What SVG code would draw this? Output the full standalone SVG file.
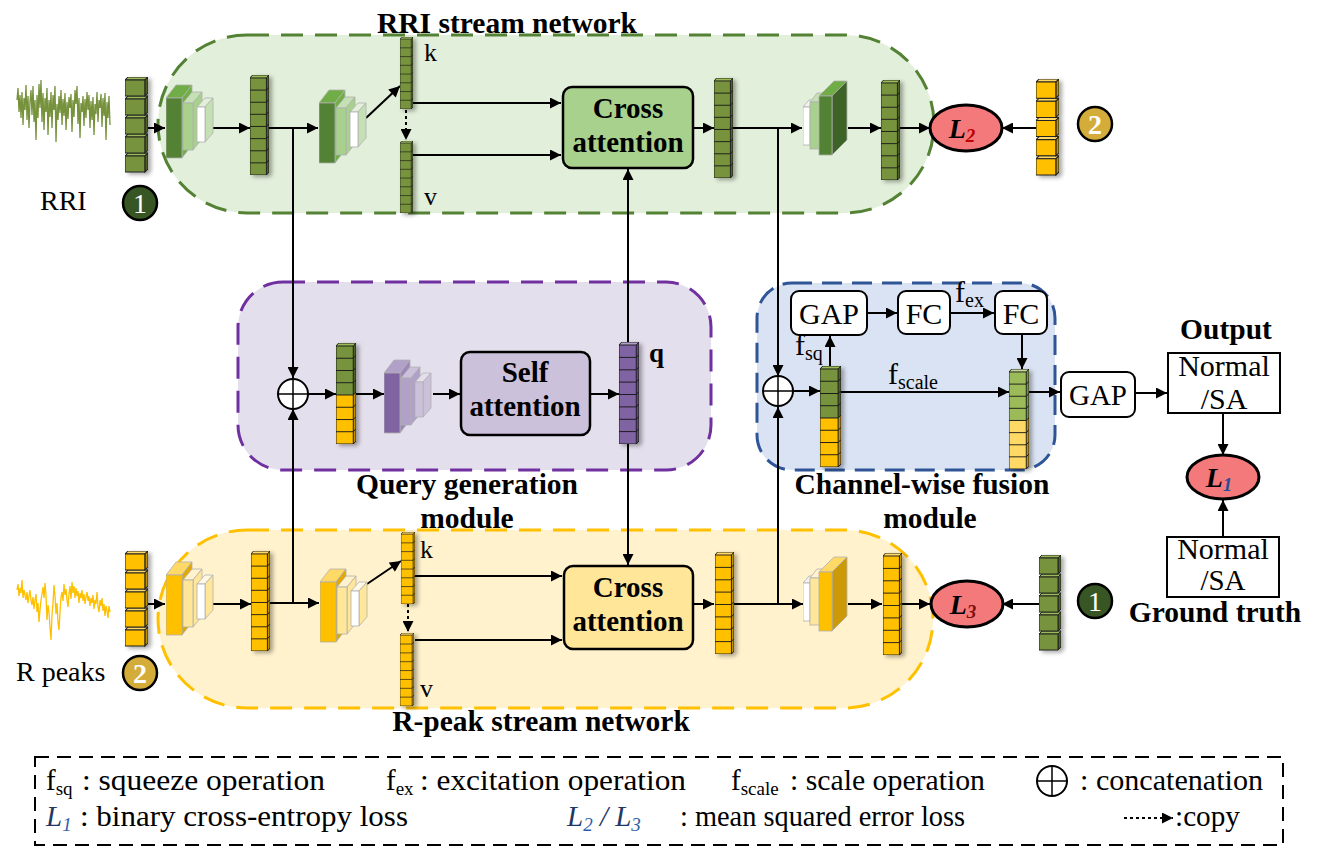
<svg xmlns="http://www.w3.org/2000/svg" width="1320" height="849" viewBox="0 0 1320 849">
<style>
.t{font-family:"Liberation Serif","Times New Roman",serif;fill:#000}
.b{font-weight:bold}
.h{font-family:"Liberation Serif","Times New Roman",serif;font-weight:bold;font-size:29.5px;text-anchor:middle}
.lg{font-family:"Liberation Serif","Times New Roman",serif;font-size:29px}
.c{stroke:#000;stroke-width:2;fill:none}
.ar{marker-end:url(#ah)}
.dot{stroke-dasharray:3 3}
.grid{fill:none;stroke:#1a1a1a;stroke-width:1}
.sl{stroke:#b0b0b0;stroke-width:0.8}
.box{stroke:#000;stroke-width:2.5}
.wbox{fill:#fff;stroke:#000;stroke-width:2}
</style>
<defs>
<marker id="ah" viewBox="0 0 10 10" refX="10" refY="5" markerWidth="12" markerHeight="11" markerUnits="userSpaceOnUse" orient="auto"><path d="M0,0L10,5L0,10Z" fill="#000"/></marker>
<filter id="sh" x="-30%" y="-10%" width="180%" height="130%"><feDropShadow dx="3" dy="2" stdDeviation="2" flood-color="#000" flood-opacity="0.35"/></filter>
<path id="g8" d="M0,15.4H19L22,12.4M0,27.8H19L22,24.8M0,40.1H19L22,37.1M0,52.5H19L22,49.5M0,64.9H19L22,61.9M0,77.3H19L22,74.3M0,89.6H19L22,86.6M0,3H19V102H0ZM0,3L3,0H22V99L19,102M19,3L22,0"/>
<symbol id="sG" viewBox="0 0 22 102" preserveAspectRatio="none"><path d="M0,3L3,0H22L19,3Z" fill="#9bbb59"/><path d="M19,3L22,0V99L19,102Z" fill="#4f6228"/><rect x="0" y="3" width="19" height="99" fill="#77933c"/><use href="#g8" class="grid"/></symbol>
<symbol id="sY" viewBox="0 0 22 102" preserveAspectRatio="none"><path d="M0,3L3,0H22L19,3Z" fill="#ffd966"/><path d="M19,3L22,0V99L19,102Z" fill="#bf9000"/><rect x="0" y="3" width="19" height="99" fill="#ffc000"/><use href="#g8" class="grid"/></symbol>
<symbol id="sP" viewBox="0 0 22 102" preserveAspectRatio="none"><path d="M0,3L3,0H22L19,3Z" fill="#b1a0c7"/><path d="M19,3L22,0V99L19,102Z" fill="#5f497a"/><rect x="0" y="3" width="19" height="99" fill="#8064a2"/><use href="#g8" class="grid"/></symbol>
<symbol id="sM" viewBox="0 0 22 102" preserveAspectRatio="none"><path d="M0,3L3,0H22L19,3Z" fill="#9bbb59"/><path d="M19,3L22,0V49.5L19,52.5Z" fill="#4f6228"/><path d="M19,52.5L22,49.5V99L19,102Z" fill="#bf9000"/><rect x="0" y="3" width="19" height="49.5" fill="#77933c"/><rect x="0" y="52.5" width="19" height="49.5" fill="#ffc000"/><use href="#g8" class="grid"/></symbol>
<symbol id="sL" viewBox="0 0 22 102" preserveAspectRatio="none"><path d="M0,3L3,0H22L19,3Z" fill="#c4d79b"/><path d="M19,3L22,0V49.5L19,52.5Z" fill="#77933c"/><path d="M19,52.5L22,49.5V99L19,102Z" fill="#bf9000"/><rect x="0" y="3" width="19" height="49.5" fill="#9bbb59"/><rect x="0" y="52.5" width="19" height="49.5" fill="#ffd966"/><use href="#g8" class="grid"/></symbol>
<path id="c5t" d="M0,3L3,0H22L19,3ZM0,22L3,19H22L19,22ZM0,41L3,38H22L19,41ZM0,60L3,57H22L19,60ZM0,79L3,76H22L19,79Z"/>
<path id="c5s" d="M19,3L22,0V16L19,19ZM19,22L22,19V35L19,38ZM19,41L22,38V54L19,57ZM19,60L22,57V73L19,76ZM19,79L22,76V92L19,95Z"/>
<path id="c5f" d="M0,3h19v16h-19ZM0,22h19v16h-19ZM0,41h19v16h-19ZM0,60h19v16h-19ZM0,79h19v16h-19Z"/>
<symbol id="cG" viewBox="0 0 22 96" preserveAspectRatio="none"><use href="#c5t" fill="#9bbb59" stroke="#222"/><use href="#c5s" fill="#4f6228" stroke="#222"/><use href="#c5f" fill="#77933c" stroke="#222"/></symbol>
<symbol id="cY" viewBox="0 0 22 96" preserveAspectRatio="none"><use href="#c5t" fill="#ffd966" stroke="#222"/><use href="#c5s" fill="#bf9000" stroke="#222"/><use href="#c5f" fill="#ffc000" stroke="#222"/></symbol>
<symbol id="encG" viewBox="0 0 48 76">
<path class="sl" fill="#70ad47" d="M0,14L10,1H26L16,14Z"/><path class="sl" fill="#70ad47" d="M16,14L26,1V61L16,74Z"/><rect class="sl" x="0" y="14" width="16" height="60" fill="#548235"/>
<path class="sl" fill="#c5e0b4" d="M17,19L26,8H36L27,19Z"/><path class="sl" fill="#a9d18e" d="M27,19L36,8V55L27,66Z"/><rect class="sl" x="17" y="19" width="10" height="47" fill="#a9d18e"/>
<path class="sl" fill="#e2f0d9" d="M31,23L39,14H47L39,23Z"/><path class="sl" fill="#c5e0b4" d="M39,23L47,14V49L39,58Z"/><rect class="sl" x="31" y="23" width="8" height="35" fill="#fff"/>
</symbol>
<symbol id="encY" viewBox="0 0 48 76">
<path class="sl" fill="#ffd966" d="M0,14L10,1H26L16,14Z"/><path class="sl" fill="#e0a800" d="M16,14L26,1V61L16,74Z"/><rect class="sl" x="0" y="14" width="16" height="60" fill="#ffc000"/>
<path class="sl" fill="#fff2cc" d="M17,19L26,8H36L27,19Z"/><path class="sl" fill="#ffe699" d="M27,19L36,8V55L27,66Z"/><rect class="sl" x="17" y="19" width="10" height="47" fill="#ffe699"/>
<path class="sl" fill="#fff8e5" d="M31,23L39,14H47L39,23Z"/><path class="sl" fill="#ffe699" d="M39,23L47,14V49L39,58Z"/><rect class="sl" x="31" y="23" width="8" height="35" fill="#fff"/>
</symbol>
<symbol id="encP" viewBox="0 0 48 76">
<path class="sl" fill="#b1a0c7" d="M0,14L10,1H26L16,14Z"/><path class="sl" fill="#9d87b9" d="M16,14L26,1V61L16,74Z"/><rect class="sl" x="0" y="14" width="16" height="60" fill="#8064a2"/>
<path class="sl" fill="#ccc1da" d="M17,19L26,8H36L27,19Z"/><path class="sl" fill="#b1a0c7" d="M27,19L36,8V55L27,66Z"/><rect class="sl" x="17" y="19" width="10" height="47" fill="#b1a0c7"/>
<path class="sl" fill="#e4dfec" d="M31,23L39,14H47L39,23Z"/><path class="sl" fill="#ccc1da" d="M39,23L47,14V49L39,58Z"/><rect class="sl" x="31" y="23" width="8" height="35" fill="#ccc1da"/>
</symbol>
<symbol id="decG" viewBox="0 0 46 76">
<path class="sl" fill="#f2f2f2" d="M0,27L6,20H13L7,27Z"/><path class="sl" fill="#e2f0d9" d="M7,27L13,20V58L7,65Z"/><rect class="sl" x="0" y="27" width="7" height="38" fill="#fff"/>
<path class="sl" fill="#c5e0b4" d="M7,22L14,13H24L17,22Z"/><path class="sl" fill="#8fbc6f" d="M17,22L24,13V60L17,69Z"/><rect class="sl" x="7" y="22" width="10" height="47" fill="#a9d18e"/>
<path class="sl" fill="#70ad47" d="M16,16L31,1H44L29,16Z"/><path class="sl" fill="#3d6326" d="M29,16L44,1V60L29,75Z"/><rect class="sl" x="16" y="16" width="13" height="59" fill="#548235"/>
</symbol>
<symbol id="decY" viewBox="0 0 46 76">
<path class="sl" fill="#f2f2f2" d="M0,27L6,20H13L7,27Z"/><path class="sl" fill="#fff2cc" d="M7,27L13,20V58L7,65Z"/><rect class="sl" x="0" y="27" width="7" height="38" fill="#fff"/>
<path class="sl" fill="#fff2cc" d="M7,22L14,13H24L17,22Z"/><path class="sl" fill="#ffd966" d="M17,22L24,13V60L17,69Z"/><rect class="sl" x="7" y="22" width="10" height="47" fill="#ffe699"/>
<path class="sl" fill="#ffd966" d="M16,16L31,1H44L29,16Z"/><path class="sl" fill="#cc9a06" d="M29,16L44,1V60L29,75Z"/><rect class="sl" x="16" y="16" width="13" height="59" fill="#ffc000"/>
</symbol>
<g id="oplus"><circle r="15" fill="#fff" stroke="#000" stroke-width="2"/><path d="M-15,0H15M0,-15V15" stroke="#000" stroke-width="1.5"/></g>
</defs>
<rect width="1320" height="849" fill="#fff"/>

<g id="rri-stream"><rect x="158" y="35" width="776" height="178" rx="89" fill="#e2efda" stroke="#548235" stroke-width="3" stroke-dasharray="22 12"/></g>
<g id="rpeak-stream"><rect x="158" y="530" width="775" height="178" rx="89" fill="#fff2cc" stroke="#ffc000" stroke-width="3" stroke-dasharray="22 12"/></g>
<g id="query-module"><rect x="238" y="282" width="473" height="188" rx="45" fill="#e4dfec" stroke="#7030a0" stroke-width="3" stroke-dasharray="22 12"/></g>
<g id="fusion-module"><rect x="757" y="283" width="298" height="187" rx="35" fill="#dae3f3" stroke="#2f5597" stroke-width="3" stroke-dasharray="20 10"/></g>

<text class="h" x="507" y="33">RRI stream network</text>
<text class="h" x="467" y="494">Query generation</text>
<text class="h" x="467" y="528">module</text>
<text class="h" x="922" y="494">Channel-wise fusion</text>
<text class="h" x="930" y="528">module</text>
<text class="h" x="541" y="731">R-peak stream network</text>

<g id="connectors">
<path class="c ar" d="M148,128H165"/>
<path class="c ar" d="M213,128H250"/>
<path class="c ar" d="M269,128H318"/>
<path class="c ar" d="M293,128V378"/>
<path class="c ar" d="M366,118L400,86"/>
<path class="c ar dot" d="M406,110V140"/>
<path class="c ar" d="M413,103H561"/>
<path class="c ar" d="M413,155H561"/>
<path class="c ar" d="M693,128H714"/>
<path class="c ar" d="M733,128H802"/>
<path class="c ar" d="M778,128V376"/>
<path class="c ar" d="M848,128H881"/>
<path class="c ar" d="M900,128H930"/>
<path class="c ar" d="M1036,128H1002"/>
<path class="c ar" d="M628,342V169"/>
<path class="c ar" d="M308,394H336"/>
<path class="c ar" d="M356,394H384"/>
<path class="c ar" d="M433,394H460"/>
<path class="c ar" d="M590,394H619"/>
<path class="c ar" d="M628,444V565"/>
<path class="c ar" d="M293,603V409"/>
<path class="c ar" d="M793,391H820"/>
<path class="c ar" d="M830,366V336"/>
<path class="c ar" d="M867,313H897"/>
<path class="c ar" d="M950,313H994"/>
<path class="c ar" d="M1022,334V369"/>
<path class="c ar" d="M841,392H1009"/>
<path class="c ar" d="M1029,392H1060"/>
<path class="c ar" d="M1135,393H1167"/>
<path class="c ar" d="M1223,413V455"/>
<path class="c ar" d="M1223,537V500"/>
<path class="c ar" d="M148,604H165"/>
<path class="c ar" d="M213,604H251"/>
<path class="c ar" d="M270,603H319"/>
<path class="c ar" d="M367,584L401,561"/>
<path class="c ar dot" d="M408,604V632"/>
<path class="c ar" d="M415,576H562"/>
<path class="c ar" d="M415,640H562"/>
<path class="c ar" d="M694,604H714"/>
<path class="c ar" d="M734,604H803"/>
<path class="c ar" d="M778,604V407"/>
<path class="c ar" d="M848,604H882"/>
<path class="c ar" d="M902,604H930"/>
<path class="c ar" d="M1039,604H1002"/>
</g>

<g id="rri-input">
<polyline fill="none" stroke="#76923c" stroke-width="1.3" points="17,100 18,88 19,112 20,95 21,118 22,92 23,125 24,98 25,110 26,85 27,120 28,96 29,128 30,102 31,90 32,115 33,86 34,122 35,100 36,140 37,95 38,118 39,84 40,108 41,80 42,122 43,93 44,130 45,98 46,112 47,88 48,135 49,100 50,117 51,92 52,128 53,95 54,110 55,86 56,142 57,104 58,120 59,96 60,113 61,90 62,125 63,99 64,116 65,93 66,130 67,102 68,119 69,97 70,108 71,94 72,132 73,100 74,117 75,90 76,104 77,86 78,124 79,98 80,138 81,103 82,112 83,96 84,126 85,99 86,118 87,92 88,110 89,95 90,128 91,101 92,120 93,97 94,135 95,104 96,114 97,92 98,122 99,100 100,108 101,94 102,127 103,98 104,116 105,93 106,140 107,102 108,118 109,96 110,125"/>
<text class="t" x="40" y="210" font-size="28">RRI</text>
<use href="#cG" x="125" y="77" width="23" height="96" filter="url(#sh)"/>
<circle cx="140" cy="203" r="17" fill="#375623" stroke="#000" stroke-width="2.5"/>
<text class="t" x="140" y="213" font-size="28" style="fill:#fff" text-anchor="middle">1</text>
</g>

<g id="rri-conv1"><use href="#encG" x="166" y="84" width="48" height="76"/></g>
<g id="rri-feat1"><use href="#sG" x="250" y="75" width="19" height="100" filter="url(#sh)"/></g>
<g id="rri-conv2"><use href="#encG" x="319" y="89" width="48" height="76"/></g>
<g id="rri-k"><use href="#sG" x="400" y="37" width="13" height="72" filter="url(#sh)"/><text class="t" x="424" y="61" font-size="26">k</text></g>
<g id="rri-v"><use href="#sG" x="400" y="141" width="13" height="72" filter="url(#sh)"/><text class="t" x="424" y="205" font-size="26">v</text></g>
<g id="rri-cross"><rect class="box" x="563" y="87" width="130" height="81" rx="9" fill="#a9d18e"/><text class="t b" x="628" y="118" font-size="29" text-anchor="middle">Cross</text><text class="t b" x="628" y="152" font-size="29" text-anchor="middle">attention</text></g>
<g id="rri-feat2"><use href="#sG" x="714" y="78" width="19" height="100" filter="url(#sh)"/></g>
<g id="rri-deconv"><use href="#decG" x="803" y="80" width="46" height="76"/></g>
<g id="rri-recon"><use href="#sG" x="881" y="80" width="19" height="100" filter="url(#sh)"/></g>
<g id="L2"><ellipse cx="966" cy="128" rx="36" ry="23" fill="#f4797b" stroke="#000" stroke-width="3"/><text class="t b" x="962" y="138" font-size="28" font-style="italic" text-anchor="middle">L<tspan font-size="19" dy="4" style="fill:#c00000">2</tspan></text></g>
<g id="rri-target"><use href="#cY" x="1036" y="79" width="23" height="97" filter="url(#sh)"/><circle cx="1095" cy="124" r="17" fill="#d4ac3a" stroke="#000" stroke-width="2.5"/><text class="t b" x="1095" y="134" font-size="28" style="fill:#fff" text-anchor="middle">2</text></g>

<g id="concat1"><use href="#oplus" x="293" y="394"/></g>
<g id="query-concat"><use href="#sM" x="336" y="343" width="20" height="101" filter="url(#sh)"/></g>
<g id="query-conv"><use href="#encP" x="384" y="359" width="48" height="76"/></g>
<g id="self-attention"><rect class="box" x="461" y="352" width="129" height="83" rx="9" fill="#ccc1da"/><text class="t b" x="525" y="382" font-size="29" text-anchor="middle">Self</text><text class="t b" x="525" y="416" font-size="29" text-anchor="middle">attention</text></g>
<g id="q"><use href="#sP" x="619" y="342" width="20" height="102" filter="url(#sh)"/><text class="t b" x="649" y="362" font-size="27">q</text></g>

<g id="concat2"><use href="#oplus" x="778" y="391"/></g>
<g id="fusion-concat"><use href="#sM" x="820" y="366" width="21" height="101" filter="url(#sh)"/><text class="t" x="795" y="355" font-size="30">f<tspan font-size="20" dy="5">sq</tspan></text></g>
<g id="gap1"><rect class="wbox" x="791" y="291" width="76" height="44" rx="8"/><text class="t" x="829" y="324" font-size="30" text-anchor="middle">GAP</text></g>
<g id="fc1"><rect class="wbox" x="898" y="291" width="52" height="43" rx="8"/><text class="t" x="924" y="324" font-size="30" text-anchor="middle">FC</text></g>
<text class="t" x="955" y="302" font-size="30">f<tspan font-size="20" dy="5">ex</tspan></text>
<g id="fc2"><rect class="wbox" x="995" y="291" width="52" height="43" rx="8"/><text class="t" x="1021" y="324" font-size="30" text-anchor="middle">FC</text></g>
<text class="t" x="888" y="384" font-size="30">f<tspan font-size="20" dy="5">scale</tspan></text>
<g id="fusion-scaled"><use href="#sL" x="1009" y="369" width="20" height="100" filter="url(#sh)"/></g>
<g id="gap2"><rect class="wbox" x="1061" y="372" width="74" height="45" rx="8"/><text class="t" x="1098" y="405" font-size="29" text-anchor="middle">GAP</text></g>
<g id="output"><text class="h" x="1226" y="339">Output</text><rect x="1168" y="353" width="112" height="60" fill="#fff" stroke="#000" stroke-width="2"/><text class="t" x="1224" y="376" font-size="30" text-anchor="middle">Normal</text><text class="t" x="1224" y="409" font-size="30" text-anchor="middle">/SA</text></g>
<g id="L1"><ellipse cx="1223" cy="477" rx="36" ry="22" fill="#f4797b" stroke="#000" stroke-width="3"/><text class="t b" x="1219" y="487" font-size="28" font-style="italic" text-anchor="middle">L<tspan font-size="19" dy="4" style="fill:#1f4e9a">1</tspan></text></g>
<g id="ground-truth"><rect x="1167" y="537" width="112" height="60" fill="#fff" stroke="#000" stroke-width="2"/><text class="t" x="1223" y="559" font-size="30" text-anchor="middle">Normal</text><text class="t" x="1223" y="590" font-size="29" text-anchor="middle">/SA</text><text class="h" x="1215" y="622">Ground truth</text></g>

<g id="rpeak-input">
<polyline fill="none" stroke="#ffc000" stroke-width="1.3" points="17,590 18,584 19,596 20,588 21,593 22,580 23,598 24,590 25,595 26,600 27,592 28,603 29,596 30,590 31,600 32,605 33,597 34,609 35,600 36,594 37,612 38,603 39,622 40,610 41,600 42,594 43,587 44,598 45,583 46,596 47,620 48,605 49,612 50,628 51,640 52,615 53,603 54,585 55,596 56,614 57,603 58,622 59,630 60,612 61,597 62,592 63,601 64,584 65,595 66,589 67,600 68,607 69,594 70,586 71,599 72,582 73,593 74,586 75,598 76,588 77,596 78,591 79,603 80,593 81,598 82,590 83,601 84,594 85,604 86,597 87,592 88,601 89,596 90,606 91,598 92,603 93,595 94,609 95,600 96,604 97,592 98,607 99,612 100,600 101,606 102,598 103,611 104,604 105,616 106,606 107,610 108,618 109,606 110,612"/>
<text class="t" x="16" y="681" font-size="28">R peaks</text>
<use href="#cY" x="125" y="551" width="23" height="96" filter="url(#sh)"/>
<circle cx="140" cy="673" r="17" fill="#d4ac3a" stroke="#000" stroke-width="2.5"/>
<text class="t b" x="140" y="683" font-size="28" style="fill:#fff" text-anchor="middle">2</text>
</g>

<g id="rp-conv1"><use href="#encY" x="166" y="561" width="48" height="76"/></g>
<g id="rp-feat1"><use href="#sY" x="251" y="551" width="19" height="100" filter="url(#sh)"/></g>
<g id="rp-conv2"><use href="#encY" x="320" y="568" width="48" height="76"/></g>
<g id="rp-k"><use href="#sY" x="401" y="532" width="14" height="72" filter="url(#sh)"/><text class="t" x="420" y="558" font-size="26">k</text></g>
<g id="rp-v"><use href="#sY" x="400" y="633" width="14" height="73" filter="url(#sh)"/><text class="t" x="420" y="697" font-size="26">v</text></g>
<g id="rp-cross"><rect class="box" x="564" y="566" width="129" height="83" rx="9" fill="#ffe699"/><text class="t b" x="628" y="597" font-size="29" text-anchor="middle">Cross</text><text class="t b" x="628" y="631" font-size="29" text-anchor="middle">attention</text></g>
<g id="rp-feat2"><use href="#sY" x="715" y="552" width="19" height="102" filter="url(#sh)"/></g>
<g id="rp-deconv"><use href="#decY" x="803" y="556" width="46" height="76"/></g>
<g id="rp-recon"><use href="#sY" x="883" y="553" width="19" height="102" filter="url(#sh)"/></g>
<g id="L3"><ellipse cx="967" cy="604" rx="36" ry="23" fill="#f4797b" stroke="#000" stroke-width="3"/><text class="t b" x="963" y="614" font-size="28" font-style="italic" text-anchor="middle">L<tspan font-size="19" dy="4" style="fill:#7b1010">3</tspan></text></g>
<g id="rp-target"><use href="#cG" x="1039" y="555" width="22" height="96" filter="url(#sh)"/><circle cx="1095" cy="601" r="17" fill="#375623" stroke="#000" stroke-width="2.5"/><text class="t" x="1095" y="611" font-size="28" style="fill:#fff" text-anchor="middle">1</text></g>

<g id="legend">
<rect x="35" y="757" width="1248" height="88" fill="#fff" stroke="#000" stroke-width="2" stroke-dasharray="14 8"/>
<text class="lg" x="46" y="790">f<tspan font-size="19" dy="5">sq</tspan></text>
<text class="lg" x="82" y="790" textLength="243" lengthAdjust="spacingAndGlyphs">: squeeze operation</text>
<text class="lg" x="386" y="790">f<tspan font-size="19" dy="5">ex</tspan></text>
<text class="lg" x="420" y="790" textLength="266" lengthAdjust="spacingAndGlyphs">: excitation operation</text>
<text class="lg" x="731" y="790">f<tspan font-size="19" dy="5">scale</tspan></text>
<text class="lg" x="790" y="790" textLength="195" lengthAdjust="spacingAndGlyphs">: scale operation</text>
<use href="#oplus" transform="translate(1052 781)"/>
<text class="lg" x="1080" y="790" textLength="183" lengthAdjust="spacingAndGlyphs">: concatenation</text>
<text class="lg" x="46" y="826" font-style="italic" style="fill:#1f3864">L<tspan font-size="19" dy="5" style="fill:#2e5fa8">1</tspan></text>
<text class="lg" x="80" y="826" textLength="328" lengthAdjust="spacingAndGlyphs">: binary cross-entropy loss</text>
<text class="lg" x="567" y="826" font-style="italic" style="fill:#1f3864">L<tspan font-size="19" dy="5" style="fill:#2e5fa8">2</tspan><tspan dy="-5"> / L</tspan><tspan font-size="19" dy="5" style="fill:#2e5fa8">3</tspan></text>
<text class="lg" x="680" y="826" textLength="285" lengthAdjust="spacingAndGlyphs">: mean squared error loss</text>
<path class="c ar dot" d="M1124,818H1173" stroke-width="1.8"/>
<text class="lg" x="1175" y="826" textLength="65" lengthAdjust="spacingAndGlyphs">:copy</text>
</g>
</svg>
